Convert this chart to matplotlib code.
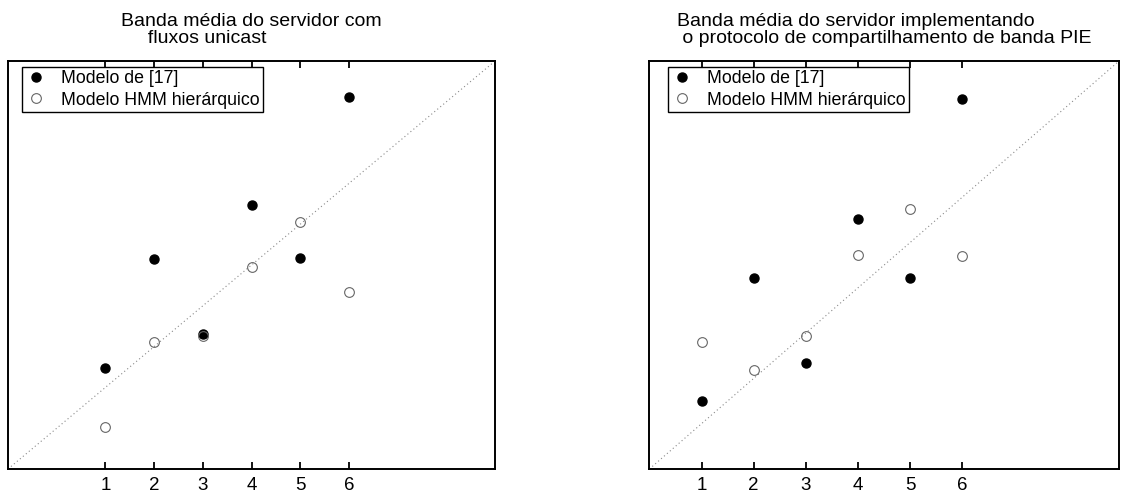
import numpy as np
import matplotlib.pyplot as plt

plt.rcParams['font.family'] = ['Liberation Sans', 'DejaVu Sans']

# dados
cenarios = [1, 2, 3, 4, 5, 6]

unicast_modelo17 = [1.48, 4.15, 2.32, 5.48, 4.18, 8.11]
unicast_hmm = [0.04, 2.12, 2.26, 3.94, 5.05, 3.34]

pie_modelo17 = [1.51, 4.21, 2.34, 5.51, 4.21, 8.16]
pie_hmm = [2.80, 2.19, 2.93, 4.72, 5.74, 4.70]

titulos = ["Banda média do servidor com\n     fluxos unicast",
           "Banda média do servidor implementando\n o protocolo de compartilhamento de banda PIE"]

fig = plt.figure(figsize=(11.42, 4.96), dpi=100)
ax1 = fig.add_axes([0.007, 0.0544, 0.4265, 0.8226])
ax2 = fig.add_axes([0.5686, 0.0544, 0.4113, 0.8226])

paineis = [(ax1, unicast_modelo17, unicast_hmm, (-1, 9), 0.028),
           (ax2, pie_modelo17, pie_hmm, (0, 9), 0.039)]

for i, (ax, m17, hmm, lims, leg_x) in enumerate(paineis):
    # linha diagonal y = x
    ax.plot(lims, lims, color='#8a8a8a', linestyle=(0, (1, 2.5)), linewidth=0.8)
    ax.plot(cenarios, m17, 'o', color='black', markersize=6.5, label='Modelo de [17]')
    ax.plot(cenarios, hmm, 'o', markerfacecolor='none', markeredgecolor='#666666',
            markeredgewidth=0.8, markersize=7, label='Modelo HMM hierárquico')
    ax.set_xlim(lims)
    ax.set_ylim(lims)
    ax.set_xticks(cenarios)
    ax.set_yticks([])
    ax.tick_params(axis='x', direction='in', top=True, length=5, width=1.3,
                   labelsize=13.5, pad=6)
    for s in ax.spines.values():
        s.set_linewidth(1.4)
    ax.set_title(titulos[i], fontsize=14, multialignment='left',
                 linespacing=1.0, pad=13)
    leg = ax.legend(loc='upper left', bbox_to_anchor=(leg_x, 0.986), borderaxespad=0,
                    fancybox=False, edgecolor='black', framealpha=1, fontsize=12.8,
                    handlelength=1.2, handletextpad=0.8, borderpad=0.2,
                    labelspacing=0.25)
    leg.get_frame().set_linewidth(1.0)

fig.savefig('out.png', dpi=100)
